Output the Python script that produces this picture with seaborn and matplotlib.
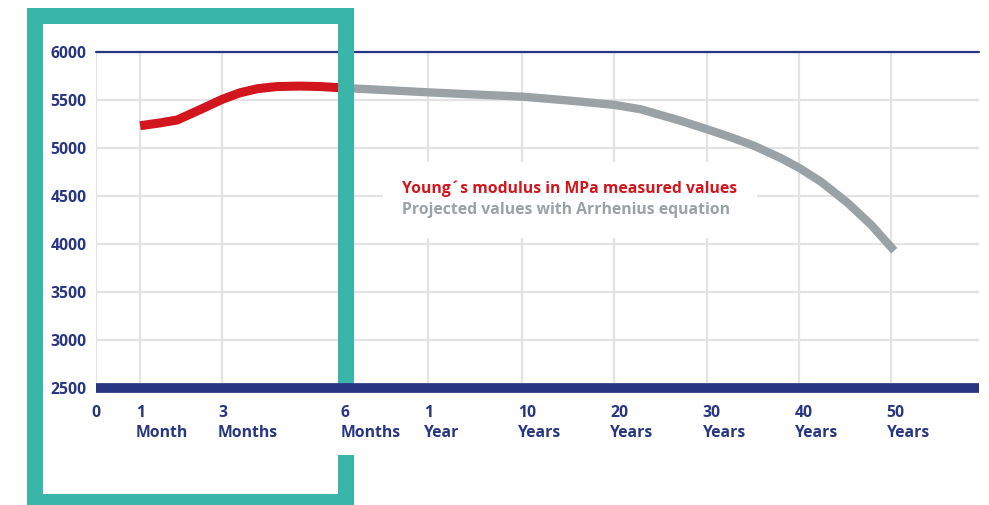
import matplotlib
matplotlib.use("Agg")
import matplotlib.pyplot as plt
from matplotlib.patches import Rectangle
from matplotlib.lines import Line2D
from matplotlib.transforms import ScaledTranslation
import seaborn as sns
import pandas as pd

# x axis is not linear in time, so ticks sit at hand-read positions
tick_pos = [0, 0.5, 1.43, 2.82, 3.76, 4.83, 5.87, 6.92, 7.96, 9.0]
tick_labels = ["0", "1\nMonth", "3\nMonths", "6\nMonths", "1\nYear",
               "10\nYears", "20\nYears", "30\nYears", "40\nYears", "50\nYears"]
y_ticks = [2500, 3000, 3500, 4000, 4500, 5000, 5500, 6000]

measured_x = [0.50, 0.73, 0.92, 1.18, 1.43, 1.63, 1.83, 2.05, 2.31, 2.54, 2.82]
measured_y = [5232, 5262, 5292, 5400, 5507, 5575, 5618, 5640, 5645, 5640, 5625]
projected_x = [2.82, 3.76, 4.84, 5.41, 5.88, 6.17, 6.62, 6.92, 7.19, 7.45, 7.76,
               7.97, 8.21, 8.51, 8.78, 9.04]
projected_y = [5625, 5580, 5534, 5490, 5448, 5403, 5284, 5195, 5112, 5024, 4893,
               4789, 4649, 4430, 4198, 3930]

label_measured = "Young´s modulus in MPa measured values"
label_projected = "Projected values with Arrhenius equation"

navy = "#283582"
red = "#d2161e"
grey = "#9aa2a5"
teal = "#3ab5a9"
grid = "#e3e3e3"

sns.set_theme(style="white")
plt.rcParams["font.family"] = ["Open Sans", "DejaVu Sans"]
plt.rcParams["font.weight"] = "bold"
fs = 11.3

W, H = 989, 505
fig = plt.figure(figsize=(W / 100, H / 100), dpi=100)
ax = fig.add_axes([96 / W, 1 - 388 / H, (979 - 96) / W, (388 - 52) / H])

df_m = pd.DataFrame({"x": measured_x, "y": measured_y})
df_p = pd.DataFrame({"x": projected_x, "y": projected_y})
sns.lineplot(data=df_p, x="x", y="y", ax=ax, color=grey, lw=6, solid_capstyle="butt",
             solid_joinstyle="round", zorder=2)
sns.lineplot(data=df_m, x="x", y="y", ax=ax, color=red, lw=6.5, solid_capstyle="butt",
             solid_joinstyle="round", zorder=2)

ax.set_xlim(0, 10)
ax.set_ylim(2500, 6000)
ax.set_xlabel("")
ax.set_ylabel("")
for s in ax.spines.values():
    s.set_visible(False)

ax.set_axisbelow(True)
ax.grid(True, color=grid, lw=1.6)
ax.set_yticks(y_ticks)
ax.set_xticks(tick_pos, tick_labels)
ax.tick_params(length=0, labelsize=fs, labelcolor=navy)
ax.tick_params(axis="y", pad=7)
ax.tick_params(axis="x", pad=12)
off = ScaledTranslation(-3 / 72, 0, fig.dpi_scale_trans)
for lab in ax.get_xticklabels():
    lab.set_ha("left")
    lab.set_linespacing(1.4)
    lab.set_transform(lab.get_transform() + off)
for lab in ax.get_yticklabels() + ax.get_xticklabels():
    lab.set_fontweight("bold")

ax.axhline(6000, color=navy, lw=1.6, zorder=1, clip_on=False)
ax.axhline(2500, color=navy, lw=7, zorder=4, clip_on=False, solid_capstyle="butt")

# teal frame around the measured period
def px_rect(x0, y0, x1, y1):
    return Rectangle((x0 / W, 1 - y1 / H), (x1 - x0) / W, (y1 - y0) / H,
                     transform=fig.transFigure, facecolor=teal, edgecolor="none",
                     clip_on=False, zorder=3)

for r in [(27, 8, 43, 505), (27, 8, 354, 24), (338, 8, 354, 392),
          (338, 455, 354, 505), (27, 494, 354, 505)]:
    ax.add_patch(px_rect(*r))

handles = [Line2D([], [], linestyle="none"), Line2D([], [], linestyle="none")]
leg = ax.legend(handles, [label_measured, label_projected], loc="center",
                bbox_to_anchor=(0.536, 0.562), handlelength=0, handletextpad=0,
                labelcolor=[red, grey], frameon=True, facecolor="white",
                edgecolor="white", framealpha=1, fancybox=False, borderpad=1.2,
                labelspacing=0.3, prop={"size": fs, "weight": "bold"})

fig.savefig("out.png", dpi=100)
